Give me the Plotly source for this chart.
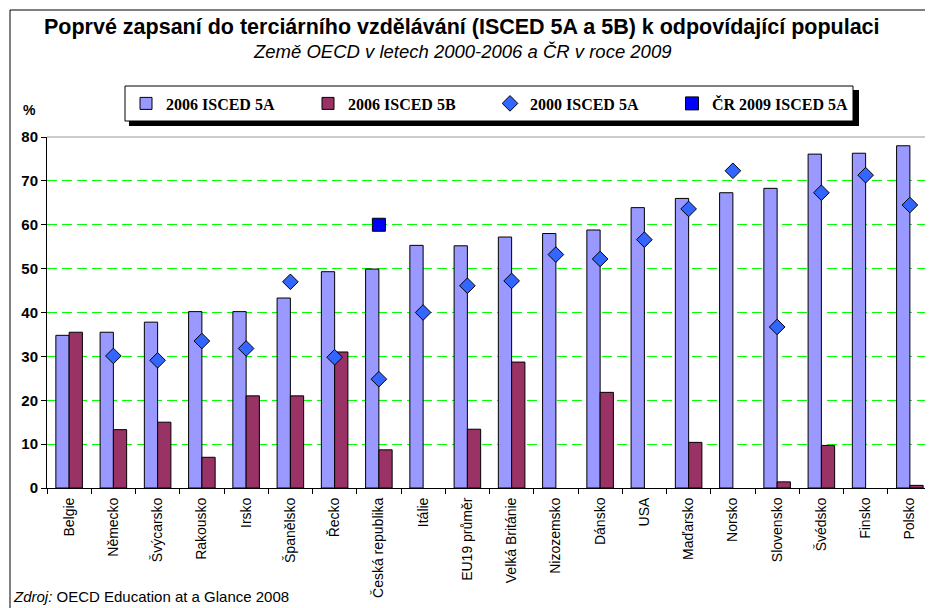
import plotly.graph_objects as go

categories = ["Belgie", "Německo", "Švýcarsko", "Rakousko", "Irsko", "Španělsko", "Řecko",
              "Česká republika", "Itálie", "EU19 průměr", "Velká Británie", "Nizozemsko",
              "Dánsko", "USA", "Maďarsko", "Norsko", "Slovensko", "Švédsko", "Finsko", "Polsko"]
isced5a_2006 = [34.8, 35.5, 37.8, 40.2, 40.2, 43.3, 49.3, 49.9, 55.3, 55.2, 57.2, 58.0,
                58.8, 63.9, 66.0, 67.3, 68.3, 76.1, 76.3, 78.0]
isced5b_2006 = [35.5, 13.3, 15.0, 7.0, 21.0, 21.0, 31.0, 8.7, None, 13.4, 28.7, None,
                21.8, None, 10.4, None, 1.4, 9.7, None, 0.6]
isced5a_2000 = [None, 30.1, 29.1, 33.5, 31.8, 47.0, 29.8, 24.8, 40.0, 46.1, 47.2, 53.2,
                52.2, 56.6, 63.6, 72.3, 36.7, 67.3, 71.3, 64.5]
cr_2009 = [None, None, None, None, None, None, None, 60.0, None, None, None, None,
           None, None, None, None, None, None, None, None]

# the page body has an 8px margin, so the figure is drawn 8px in from the corner
OFF = 8
W, H = 925, 600
L, R, T, B = 39, 1, 129, 120
PW = W - L - R
PH = H - T - B


def px(x):
    """reference window x (pixels) -> paper x"""
    return (x - OFF - L) / PW


def py(y):
    """reference window y (pixels) -> paper y"""
    return (H - B - (y - OFF)) / PH


SANS = "Arial, Liberation Sans, sans-serif"
SERIF = "Times New Roman, Liberation Serif, serif"

fig = go.Figure()
fig.add_trace(go.Bar(x=categories, y=isced5a_2006, name="2006 ISCED 5A",
                     marker=dict(color="#9999FF", line=dict(color="black", width=1))))
fig.add_trace(go.Bar(x=categories, y=isced5b_2006, name="2006 ISCED 5B",
                     marker=dict(color="#993366", line=dict(color="black", width=1))))
fig.add_trace(go.Scatter(x=categories, y=isced5a_2000, name="2000 ISCED 5A", mode="markers",
                         marker=dict(symbol="diamond", size=12, color="#3366FF",
                                     line=dict(color="black", width=1))))
fig.add_trace(go.Scatter(x=categories, y=cr_2009, name="ČR 2009 ISCED 5A", mode="markers",
                         marker=dict(symbol="square", size=13, color="#0000FF",
                                     line=dict(color="black", width=1))))

shapes = [
    # outer frame
    dict(type="rect", xref="paper", yref="paper", x0=px(10), x1=px(1100), y0=py(700), y1=py(10),
         line=dict(color="black", width=1), layer="below"),
    # legend shadow
    dict(type="rect", xref="paper", yref="paper", x0=px(129), x1=px(859), y0=py(126), y1=py(90),
         line=dict(width=0), fillcolor="black", layer="below"),
    # legend box
    dict(type="rect", xref="paper", yref="paper", x0=px(125), x1=px(853), y0=py(121), y1=py(86),
         line=dict(color="black", width=1), fillcolor="white", layer="below"),
    # plot border top and right
    dict(type="line", xref="paper", yref="paper", x0=0, x1=1, y0=1, y1=1,
         line=dict(color="#999999", width=1), layer="above"),
    dict(type="line", xref="paper", yref="paper", x0=1, x1=1, y0=0, y1=1,
         line=dict(color="#999999", width=1), layer="above"),
]

annotations = [
    dict(text="<b>Poprvé zapsaní do terciárního vzdělávání (ISCED 5A a 5B) k odpovídající populaci</b>",
         xref="paper", yref="paper", x=px(462), y=py(13), xanchor="center", yanchor="top",
         showarrow=False, font=dict(family=SANS, size=21.5, color="black")),
    dict(text="<i>Země OECD v letech 2000-2006 a ČR v roce 2009</i>",
         xref="paper", yref="paper", x=px(462), y=py(39), xanchor="center", yanchor="top",
         showarrow=False, font=dict(family=SANS, size=18.5, color="black")),
    dict(text="<b>%</b>", xref="paper", yref="paper", x=px(29), y=py(110), xanchor="center",
         yanchor="middle", showarrow=False, font=dict(family=SANS, size=14, color="black")),
    dict(text="<i>Zdroj:</i> OECD Education at a Glance 2008", xref="paper", yref="paper",
         x=px(11), y=py(607), xanchor="left", yanchor="bottom", showarrow=False,
         font=dict(family=SANS, size=15, color="black")),
]

fig.update_layout(
    width=W, height=H,
    margin=dict(l=L, r=R, t=T, b=B, autoexpand=False),
    paper_bgcolor="white", plot_bgcolor="white",
    barmode="group", bargap=0.4, bargroupgap=0,
    showlegend=True,
    legend=dict(orientation="h", x=px(126), xanchor="left", y=py(103.5), yanchor="middle",
                bgcolor="rgba(0,0,0,0)", borderwidth=0,
                entrywidth=137, entrywidthmode="pixels",
                font=dict(family=SERIF, size=16, color="black", weight="bold")),
    shapes=shapes,
    annotations=annotations,
    xaxis=dict(type="category", range=[-0.5, len(categories) - 0.5], tickangle=-90,
               ticks="outside", tickson="boundaries", ticklabelstandoff=3,
               ticklen=5, tickcolor="black", showline=True, linecolor="black", linewidth=1,
               showgrid=False, tickfont=dict(family=SANS, size=14, color="black")),
    yaxis=dict(range=[0, 80], dtick=10, ticks="outside", ticklen=5, tickcolor="black",
               showline=True, linecolor="black", linewidth=1, zeroline=False,
               showgrid=True, gridcolor="#00FF00", gridwidth=1, griddash="10px,5px",
               tickfont=dict(family=SANS, size=15, color="black", weight="bold")),
)

fig.write_html("out.html")
